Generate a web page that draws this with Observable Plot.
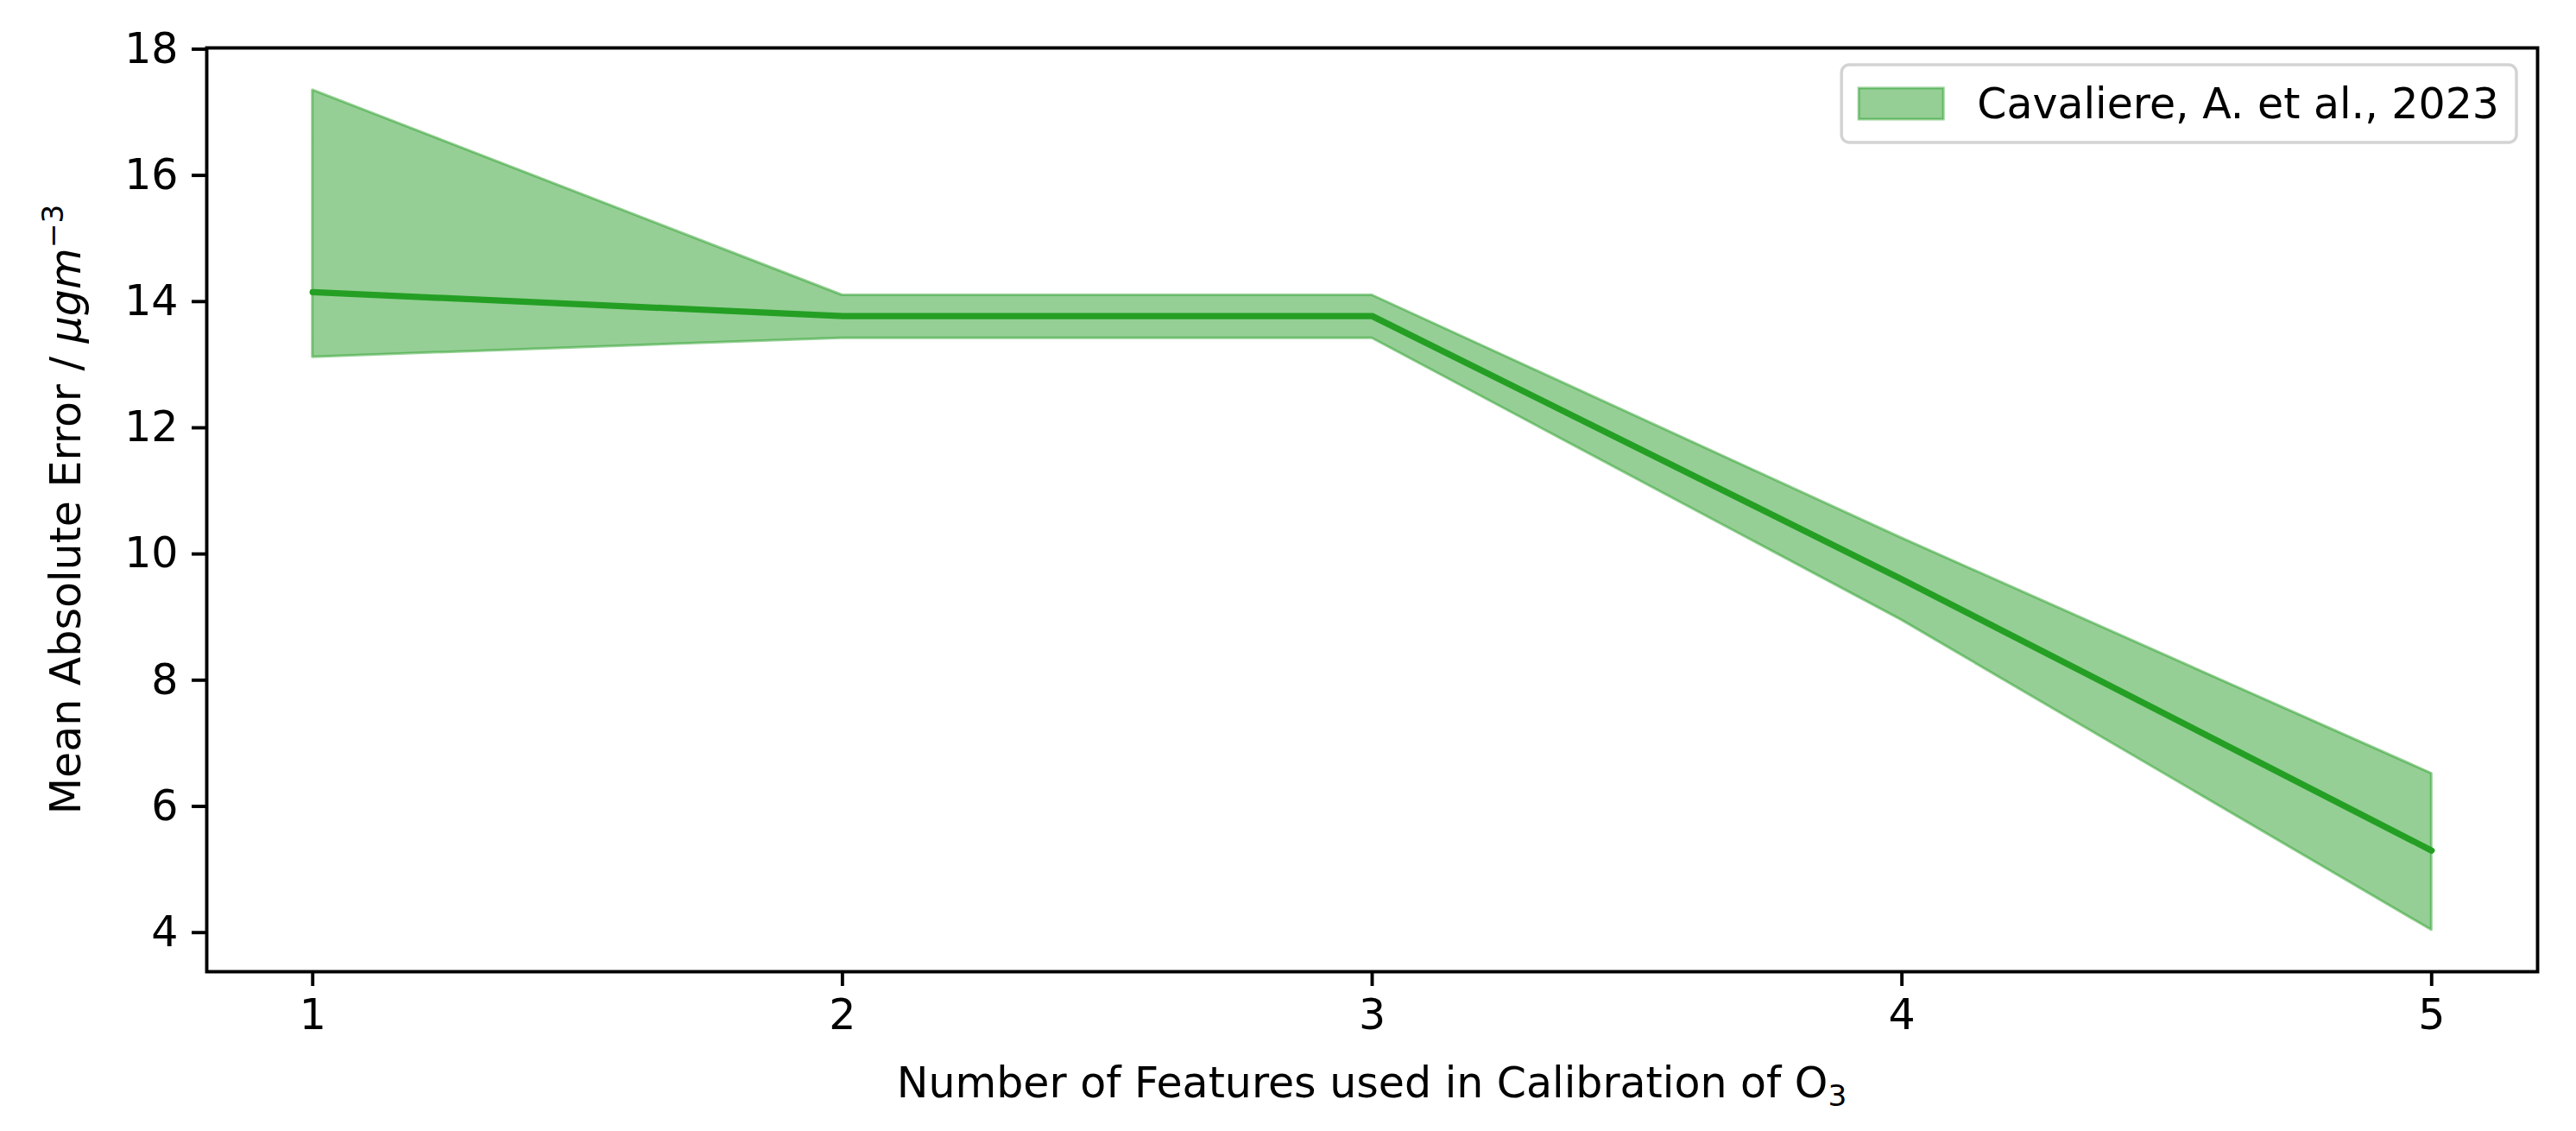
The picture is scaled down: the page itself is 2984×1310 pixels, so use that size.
<!DOCTYPE html>
<html><head><meta charset="utf-8">
<script src="https://cdn.jsdelivr.net/npm/d3@7"></script>
<script src="https://cdn.jsdelivr.net/npm/@observablehq/plot@0.6"></script>
<style>
html,body{margin:0;padding:0;background:#fff;}
svg{display:block;}
</style></head><body><div id="chart"></div>
<script>
const features = [1, 2, 3, 4, 5];
const maeMean  = [14.15, 13.77, 13.77, 9.60, 5.30];
const maeLower = [13.12, 13.42, 13.42, 8.95, 4.04];
const maeUpper = [17.35, 14.10, 14.10, 10.25, 6.52];
const xTicks = [1, 2, 3, 4, 5];
const yTicks = [4, 6, 8, 10, 12, 14, 16, 18];
const seriesLabel = "Cavaliere, A. et al., 2023";
const xLabelMain = "Number of Features used in Calibration of O";
const xLabelSub = "3";
const yLabelMain = "Mean Absolute Error / ";
const yLabelUnit = "μgm";
const yLabelExp = "−3";

const data = features.map((f, i) => ({x: f, mean: maeMean[i], lo: maeLower[i], hi: maeUpper[i]}));
const FONT = "DejaVu Sans";
const FS = 49;
const W = 2984, H = 1310;
const mL = 239, mR = 45, mT = 55, mB = 185;

const chart = Plot.plot({
  width: W, height: H,
  marginLeft: mL, marginRight: mR, marginTop: mT, marginBottom: mB,
  style: {fontFamily: FONT, fontSize: FS + "px", color: "#000", background: "#fff"},
  x: {domain: [0.8, 5.2]},
  y: {domain: [3.38, 18.02]},
  marks: [
    Plot.areaY(data, {x: "x", y1: "lo", y2: "hi", fill: "#2ca02c", fillOpacity: 0.5, stroke: "#2ca02c", strokeOpacity: 0.5, strokeWidth: 3}),
    Plot.lineY(data, {x: "x", y: "mean", stroke: "#249f24", strokeWidth: 7.3}),
    Plot.frame({stroke: "#000", strokeWidth: 3.9}),
    Plot.axisX({ticks: xTicks, tickSize: 17, tickPadding: 15, strokeWidth: 3.9, label: null, fontSize: FS, tickFormat: d => String(d)}),
    Plot.axisY({ticks: yTicks, tickSize: 17, tickPadding: 16, strokeWidth: 3.9, label: null, fontSize: FS, tickFormat: d => String(d)})
  ]
});
document.getElementById("chart").appendChild(chart);

const svg = d3.select(chart);
const xs = chart.scale("x"), ys = chart.scale("y");
const frameL = xs.apply(xs.domain[0]), frameR = xs.apply(xs.domain[1]);
const frameT = ys.apply(ys.domain[1]), frameB = ys.apply(ys.domain[0]);

// X label
const xl = svg.append("text")
  .attr("x", (frameL + frameR) / 2).attr("y", frameB + 146)
  .attr("text-anchor", "middle").attr("font-family", FONT).attr("font-size", FS).attr("fill", "#000");
xl.append("tspan").text(xLabelMain);
xl.append("tspan").attr("font-size", FS * 0.7).attr("dy", 10).text(xLabelSub);

// Y label
const yl = svg.append("text")
  .attr("transform", `translate(93,${(frameT + frameB) / 2}) rotate(-90)`)
  .attr("text-anchor", "middle").attr("font-family", FONT).attr("font-size", FS).attr("fill", "#000");
yl.append("tspan").text(yLabelMain);
yl.append("tspan").attr("font-style", "italic").text(yLabelUnit);
yl.append("tspan").attr("font-size", FS * 0.7).attr("dy", -20).text(yLabelExp);

// Legend
const lg = svg.append("g");
const boxR = frameR - 24, boxT = frameT + 20, boxH = 90;
const lt = lg.append("text").attr("text-anchor", "start").attr("font-family", FONT).attr("font-size", FS).attr("fill", "#000").text(seriesLabel);
const tw = lt.node().getComputedTextLength();
const textX = boxR - 20 - tw;
const patchR = textX - 39, patchL = patchR - 98;
const boxL = patchL - 20;
lt.attr("x", textX).attr("y", boxT + boxH / 2 + 17);
lg.insert("rect", "text").attr("x", boxL).attr("y", boxT).attr("width", boxR - boxL).attr("height", boxH)
  .attr("rx", 9).attr("fill", "#fff").attr("fill-opacity", 0.8).attr("stroke", "#d3d3d3").attr("stroke-width", 3.5);
lg.insert("rect", "text").attr("x", patchL).attr("y", boxT + boxH / 2 - 18).attr("width", 98).attr("height", 36)
  .attr("fill", "#2ca02c").attr("fill-opacity", 0.5).attr("stroke", "#2ca02c").attr("stroke-opacity", 0.5).attr("stroke-width", 3);
</script></body></html>
